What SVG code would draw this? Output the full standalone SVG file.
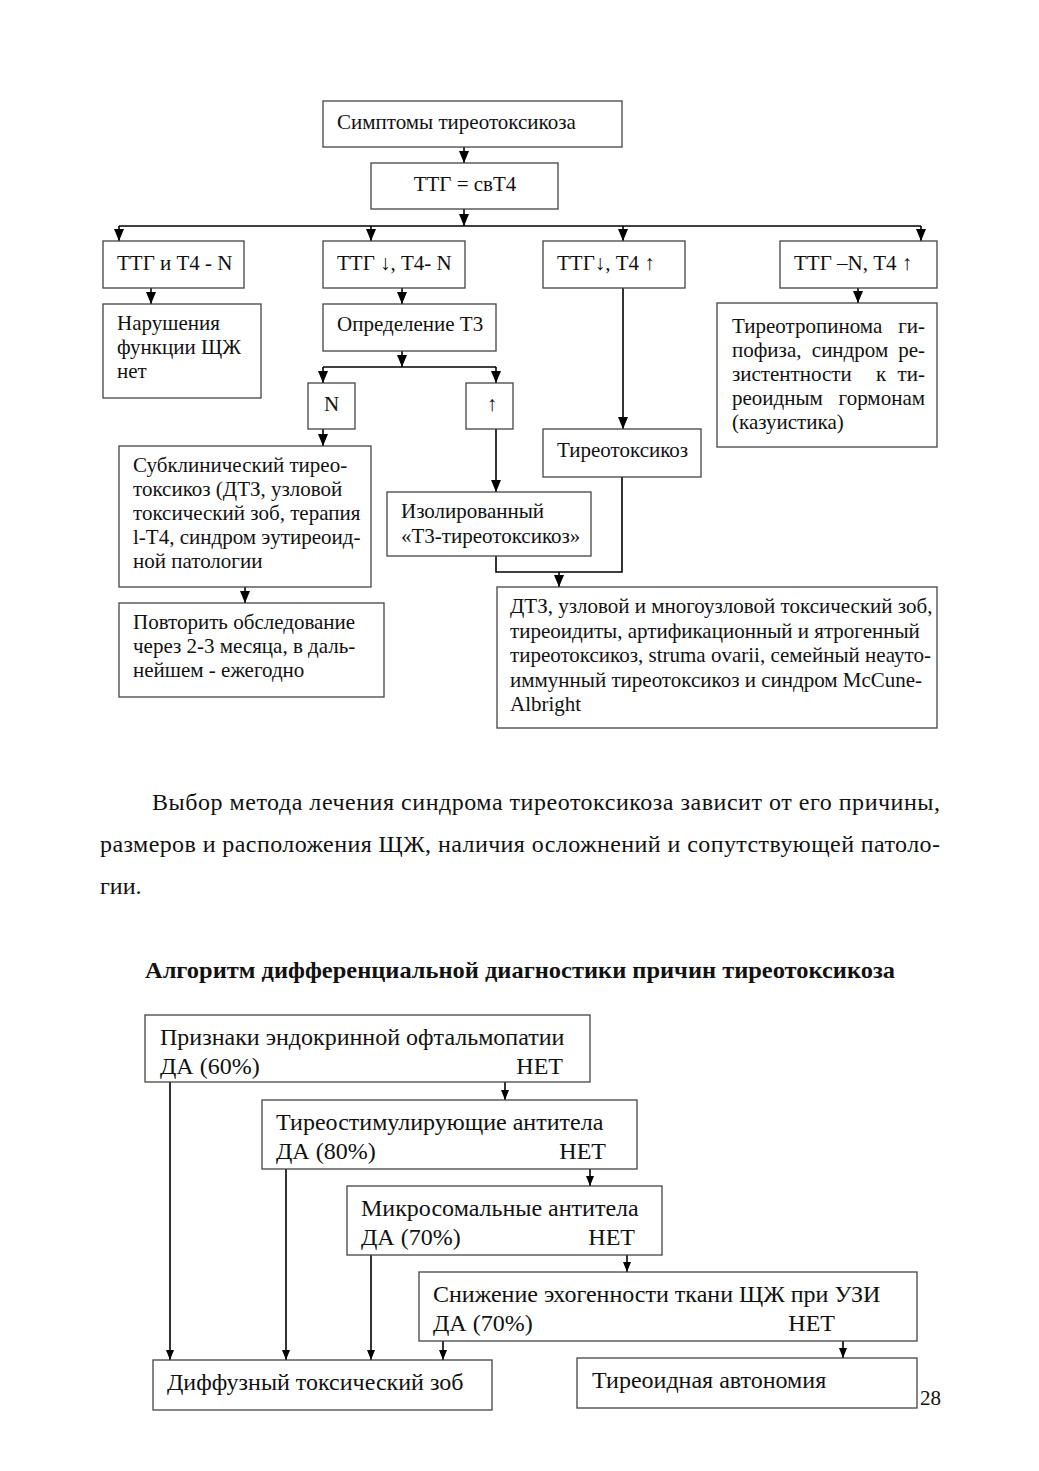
<svg xmlns="http://www.w3.org/2000/svg" width="1039" height="1471" viewBox="0 0 1039 1471">
<style>
.bx{fill:#fff;stroke:#444;stroke-width:1.3}
.ln{fill:none;stroke:#000;stroke-width:1.6}
.t{font-family:"Liberation Serif","Times New Roman",serif;font-size:21px;fill:#111}
.b{font-family:"Liberation Serif","Times New Roman",serif;font-size:24px;fill:#111}
.p{font-family:"Liberation Serif","Times New Roman",serif;font-size:24px;fill:#111}
.h{font-family:"Liberation Serif","Times New Roman",serif;font-size:24px;font-weight:bold;fill:#111}
.m{text-anchor:middle}
.e{text-anchor:end}
</style>
<defs>
<marker id="ah" viewBox="0 0 12 10" refX="12" refY="5" markerWidth="12" markerHeight="10" markerUnits="userSpaceOnUse" orient="auto"><path d="M0,0 L12,5 L0,10 z" fill="#000"/></marker>
<marker id="as" viewBox="0 0 10 8" refX="10" refY="4" markerWidth="10" markerHeight="8" markerUnits="userSpaceOnUse" orient="auto"><path d="M0,0 L10,4 L0,8 z" fill="#000"/></marker>
</defs>
<rect width="1039" height="1471" fill="#fff"/>

<g id="connectors">
<line class="ln" x1="464" y1="147" x2="464" y2="163" marker-end="url(#ah)"/>
<line class="ln" x1="464" y1="209" x2="464" y2="226" marker-end="url(#ah)"/>
<line class="ln" x1="119" y1="226" x2="921" y2="226"/>
<line class="ln" x1="119" y1="226" x2="119" y2="241" marker-end="url(#ah)"/>
<line class="ln" x1="371" y1="226" x2="371" y2="241" marker-end="url(#ah)"/>
<line class="ln" x1="623" y1="226" x2="623" y2="241" marker-end="url(#ah)"/>
<line class="ln" x1="921" y1="226" x2="921" y2="241" marker-end="url(#ah)"/>
<line class="ln" x1="151" y1="288" x2="151" y2="304" marker-end="url(#ah)"/>
<line class="ln" x1="402" y1="288" x2="402" y2="304" marker-end="url(#ah)"/>
<line class="ln" x1="858" y1="288" x2="858" y2="303" marker-end="url(#ah)"/>
<line class="ln" x1="623" y1="288" x2="623" y2="429" marker-end="url(#ah)"/>
<line class="ln" x1="402" y1="351" x2="402" y2="367" marker-end="url(#ah)"/>
<line class="ln" x1="323" y1="367" x2="496" y2="367"/>
<line class="ln" x1="323" y1="367" x2="323" y2="383" marker-end="url(#ah)"/>
<line class="ln" x1="496" y1="367" x2="496" y2="383" marker-end="url(#ah)"/>
<line class="ln" x1="323" y1="429" x2="323" y2="446" marker-end="url(#ah)"/>
<line class="ln" x1="496" y1="429" x2="496" y2="492" marker-end="url(#ah)"/>
<line class="ln" x1="245" y1="587" x2="245" y2="603" marker-end="url(#ah)"/>
<polyline class="ln" points="496,556 496,572 622,572 622,477"/>
<line class="ln" x1="559" y1="572" x2="559" y2="587" marker-end="url(#ah)"/>

<line class="ln" x1="505" y1="1082" x2="505" y2="1100" marker-end="url(#as)"/>
<line class="ln" x1="590" y1="1169" x2="590" y2="1186" marker-end="url(#as)"/>
<line class="ln" x1="627" y1="1255" x2="627" y2="1272" marker-end="url(#as)"/>
<line class="ln" x1="170" y1="1082" x2="170" y2="1360" marker-end="url(#as)"/>
<line class="ln" x1="286" y1="1169" x2="286" y2="1360" marker-end="url(#as)"/>
<line class="ln" x1="371" y1="1255" x2="371" y2="1360" marker-end="url(#as)"/>
<line class="ln" x1="443" y1="1341" x2="443" y2="1360" marker-end="url(#as)"/>
<line class="ln" x1="843" y1="1341" x2="843" y2="1358" marker-end="url(#as)"/>
</g>

<g id="n-symptoms"><rect class="bx" x="323" y="101" width="299" height="46"/><text class="t" x="337" y="129">Симптомы тиреотоксикоза</text></g>
<g id="n-ttg"><rect class="bx" x="371" y="163" width="187" height="46"/><text class="t m" x="465" y="191">ТТГ = свТ4</text></g>
<g id="n-r1"><rect class="bx" x="103" y="241" width="141" height="47"/><text class="t" x="117" y="270">ТТГ и Т4 - N</text></g>
<g id="n-r2"><rect class="bx" x="323" y="241" width="142" height="47"/><text class="t" x="337" y="270">ТТГ ↓, Т4- N</text></g>
<g id="n-r3"><rect class="bx" x="543" y="241" width="142" height="47"/><text class="t" x="557" y="270">ТТГ↓, Т4 ↑</text></g>
<g id="n-r4"><rect class="bx" x="780" y="241" width="157" height="47"/><text class="t" x="794" y="270">ТТГ –N, Т4 ↑</text></g>
<g id="n-norm"><rect class="bx" x="103" y="304" width="158" height="94"/>
<text class="t" x="117" y="330">Нарушения</text><text class="t" x="117" y="354">функции ЩЖ</text><text class="t" x="117" y="378">нет</text></g>
<g id="n-t3"><rect class="bx" x="323" y="304" width="173" height="47"/><text class="t" x="337" y="331">Определение Т3</text></g>
<g id="n-n"><rect class="bx" x="308" y="383" width="47" height="46"/><text class="t m" x="331.5" y="411">N</text></g>
<g id="n-up"><rect class="bx" x="466" y="383" width="47" height="46"/><text class="t m" x="492" y="411">↑</text></g>
<g id="n-subcl"><rect class="bx" x="119" y="446" width="252" height="141"/>
<text class="t" x="133" y="472">Субклинический тирео-</text>
<text class="t" x="133" y="496">токсикоз (ДТЗ, узловой</text>
<text class="t" x="133" y="520">токсический зоб, терапия</text>
<text class="t" x="133" y="544">l-Т4, синдром эутиреоид-</text>
<text class="t" x="133" y="568">ной патологии</text></g>
<g id="n-repeat"><rect class="bx" x="119" y="603" width="265" height="94"/>
<text class="t" x="133" y="629">Повторить обследование</text>
<text class="t" x="133" y="653">через 2-3 месяца, в даль-</text>
<text class="t" x="133" y="677">нейшем - ежегодно</text></g>
<g id="n-iso"><rect class="bx" x="387" y="492" width="204" height="64"/>
<text class="t" x="401" y="518">Изолированный</text>
<text class="t" x="401" y="543">«Т3-тиреотоксикоз»</text></g>
<g id="n-tt"><rect class="bx" x="543" y="429" width="158" height="48"/><text class="t" x="557" y="457">Тиреотоксикоз</text></g>
<g id="n-causes"><rect class="bx" x="497" y="587" width="440" height="141"/>
<text class="t" x="510" y="613">ДТЗ, узловой и многоузловой токсический зоб,</text>
<text class="t" x="510" y="638">тиреоидиты, артификационный и ятрогенный</text>
<text class="t" x="510" y="662">тиреотоксикоз, struma ovarii, семейный неауто-</text>
<text class="t" x="510" y="687">иммунный тиреотоксикоз и синдром McCune-</text>
<text class="t" x="510" y="711">Albright</text></g>
<g id="n-tsh"><rect class="bx" x="717" y="303" width="220" height="144"/>
<text class="t" x="732" y="333">Тиреотропинома</text><text class="t e" x="925" y="333">ги-</text>
<text class="t" x="732" y="357">пофиза,</text><text class="t m" x="850" y="357">синдром</text><text class="t e" x="925" y="357">ре-</text>
<text class="t" x="732" y="381">зистентности</text><text class="t m" x="881" y="381">к</text><text class="t e" x="925" y="381">ти-</text>
<text class="t" x="732" y="405">реоидным</text><text class="t e" x="925" y="405">гормонам</text>
<text class="t" x="732" y="429">(казуистика)</text></g>

<g id="paragraph">
<text class="p" x="152" y="810" textLength="788" lengthAdjust="spacing">Выбор метода лечения синдрома тиреотоксикоза зависит от его причины,</text>
<text class="p" x="100" y="852" textLength="840" lengthAdjust="spacing">размеров и расположения ЩЖ, наличия осложнений и сопутствующей патоло-</text>
<text class="p" x="100" y="894">гии.</text>
</g>
<g id="heading"><text class="h" x="145" y="978" textLength="750" lengthAdjust="spacingAndGlyphs">Алгоритм дифференциальной диагностики причин тиреотоксикоза</text></g>

<g id="n-ophth"><rect class="bx" x="145" y="1015" width="445" height="67"/>
<text class="b" x="160" y="1045">Признаки эндокринной офтальмопатии</text>
<text class="b" x="160" y="1074">ДА (60%)</text><text class="b e" x="563" y="1074">НЕТ</text></g>
<g id="n-tsi"><rect class="bx" x="262" y="1100" width="375" height="69"/>
<text class="b" x="276" y="1130">Тиреостимулирующие антитела</text>
<text class="b" x="276" y="1159">ДА (80%)</text><text class="b e" x="606" y="1159">НЕТ</text></g>
<g id="n-micro"><rect class="bx" x="347" y="1186" width="315" height="69"/>
<text class="b" x="361" y="1216">Микросомальные антитела</text>
<text class="b" x="361" y="1245">ДА (70%)</text><text class="b e" x="635" y="1245">НЕТ</text></g>
<g id="n-echo"><rect class="bx" x="419" y="1272" width="498" height="69"/>
<text class="b" x="433" y="1302">Снижение эхогенности ткани ЩЖ при УЗИ</text>
<text class="b" x="433" y="1331">ДА (70%)</text><text class="b e" x="835" y="1331">НЕТ</text></g>
<g id="n-dtz"><rect class="bx" x="153" y="1360" width="339" height="50"/><text class="b" x="167" y="1390">Диффузный токсический зоб</text></g>
<g id="n-auto"><rect class="bx" x="577" y="1358" width="340" height="50"/><text class="b" x="592" y="1388">Тиреоидная автономия</text></g>
<text class="t" x="920" y="1405">28</text>
</svg>
